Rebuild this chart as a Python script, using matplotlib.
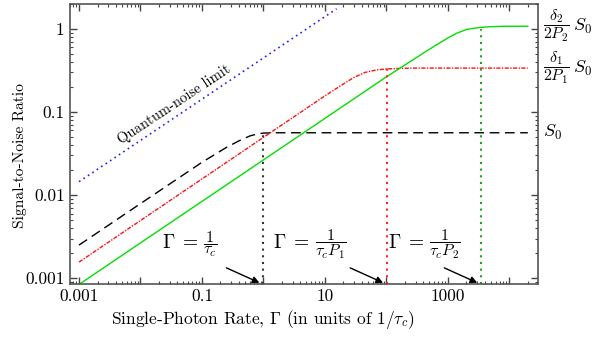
#!/usr/bin/env python3
# -*- coding: utf-8 -*-
"""
Signal-to-noise ratio vs single-photon rate (log-log)
"""

import matplotlib
matplotlib.use("Agg")
import matplotlib.pyplot as plt
from matplotlib.ticker import FixedLocator, LogLocator, NullFormatter
import numpy as np

# 量子噪聲極限
gamma_qn = [0.001, 15.5]
snr_qn = [0.0145, 1.75]

# S0 曲線 (黑色虛線)
gamma_s0 = [0.001, 0.01, 0.1, 0.25, 0.4, 0.6, 0.8, 1.0, 1.5, 20000]
snr_s0 = [0.0025, 0.0079, 0.0248, 0.0375, 0.045, 0.0515, 0.0545, 0.0558, 0.0563, 0.0563]

# δ1/(2P1) S0 曲線 (紅色點劃線)
gamma_p1 = [0.001, 1, 10, 20, 30, 45, 70, 100, 150, 250, 20000]
snr_p1 = [0.00156, 0.0495, 0.1565, 0.218, 0.262, 0.300, 0.322, 0.330, 0.335, 0.338, 0.338]

# δ2/(2P2) S0 曲線 (綠色實線)
gamma_p2 = [0.001, 100, 500, 1000, 1400, 2000, 2500, 3500, 5000, 8000, 20000]
snr_p2 = [0.00084, 0.265, 0.57, 0.78, 0.89, 0.985, 1.015, 1.048, 1.066, 1.078, 1.08]

# 特徵速率 (垂直點線)
gamma_marks = [1.0, 103, 3500]
snr_marks = [0.0563, 0.338, 1.0]
mark_colors = ["#333333", "#ff2020", "#22a022"]
mark_fracs = [r"$\dfrac{1}{\tau_c}$",
              r"$\dfrac{1}{\tau_c P_1}$",
              r"$\dfrac{1}{\tau_c P_2}$"]
label_gamma = [0.022, 1.45, 105]

# 右側標籤
right_fracs = [r"$\dfrac{\delta_2}{2P_2}$", r"$\dfrac{\delta_1}{2P_1}$", ""]
right_levels = [1.08, 0.338, 0.0563]

x_ticks = [0.001, 0.01, 0.1, 1, 10, 100, 1000, 10000]
x_ticklabels = ["0.001", "", "0.1", "", "10", "", "1000", ""]
y_ticks = [0.001, 0.01, 0.1, 1]
y_ticklabels = ["0.001", "0.01", "0.1", "1"]

plt.rcParams['font.family'] = ['cmr10']
plt.rcParams['mathtext.fontset'] = 'cm'
plt.rcParams['axes.formatter.use_mathtext'] = True

fig = plt.figure(figsize=(5.92, 3.46), dpi=100)
ax = fig.add_axes([69.5 / 592, 1 - 284 / 346, (537.7 - 69.5) / 592, (284 - 4) / 346])
ax.set_xscale('log')
ax.set_yscale('log')

# 曲線
ax.plot(gamma_qn, snr_qn, color='#2020ff', lw=1.2, dashes=(1, 2.2))
ax.plot(gamma_s0, snr_s0, color='black', lw=1.0, dashes=(7, 4))
ax.plot(gamma_p1, snr_p1, color='#ff1010', lw=1.0, dashes=(3, 1, 1, 1))
ax.plot(gamma_p2, snr_p2, color='#00e000', lw=1.0)

# 垂直線、箭頭與 Γ 標籤
ymin = 8.5e-4
for g, s, c, fr, lg in zip(gamma_marks, snr_marks, mark_colors, mark_fracs, label_gamma):
    ax.plot([g, g], [ymin, s], color=c, lw=1.5, dashes=(1, 2.2))
    ax.annotate("", xy=(g * 0.86, 0.00088), xytext=(g * 0.25, 0.00133),
                arrowprops=dict(arrowstyle='-|>', color='black', lw=1.0,
                                mutation_scale=10, shrinkA=0, shrinkB=0))
    head = ax.text(lg, 0.00265, r"$\Gamma\;=$", fontsize=14, ha='left', va='center')
    ax.annotate(fr, xy=(1, 0.45), xycoords=head, xytext=(3.5, 0),
                textcoords='offset points', fontsize=11.5, ha='left', va='center')

# 量子噪聲文字
ax.text(0.035, 0.122, "Quantum-noise limit", fontsize=10.5, rotation=33.6,
        ha='center', va='center', rotation_mode='anchor')

# 右側標籤
trans = matplotlib.transforms.blended_transform_factory(ax.transAxes, ax.transData)
for fr, lev in zip(right_fracs, right_levels):
    if fr:
        ft = ax.text(1.012, lev, fr, transform=trans, fontsize=11.5, ha='left', va='center')
        ax.annotate(r"$S_0$", xy=(1, 0.5), xycoords=ft, xytext=(2, 0),
                    textcoords='offset points', fontsize=13, ha='left', va='center')
    else:
        ax.text(1.012, lev, r"$S_0$", transform=trans, fontsize=13, ha='left', va='center')

ax.set_xlim(7e-4, 2.9e4)
ax.set_ylim(ymin, 2.0)

ax.xaxis.set_major_locator(FixedLocator(x_ticks))
ax.set_xticklabels(x_ticklabels)
ax.yaxis.set_major_locator(FixedLocator(y_ticks))
ax.set_yticklabels(y_ticklabels)
ax.xaxis.set_minor_locator(LogLocator(base=10, subs=np.arange(2, 10), numticks=20))
ax.yaxis.set_minor_locator(LogLocator(base=10, subs=np.arange(2, 10), numticks=20))
ax.xaxis.set_minor_formatter(NullFormatter())
ax.yaxis.set_minor_formatter(NullFormatter())

ax.tick_params(which='both', direction='in', top=True, right=True, colors='#444444',
               labelcolor='black', labelsize=12.5)
ax.tick_params(which='major', length=5, width=1.0)
ax.tick_params(which='minor', length=2.5, width=0.8)
for sp in ax.spines.values():
    sp.set_color('#555555')
    sp.set_linewidth(1.2)

ax.set_xlabel(r"Single-Photon Rate, $\Gamma$ (in units of $1/\tau_c$)", fontsize=12.5)
ax.xaxis.set_label_coords(0.414, -0.085)
ax.set_ylabel("Signal-to-Noise Ratio", fontsize=11.2)
ax.yaxis.set_label_coords(-0.091, 0.46)

fig.savefig("out.png", dpi=100)
